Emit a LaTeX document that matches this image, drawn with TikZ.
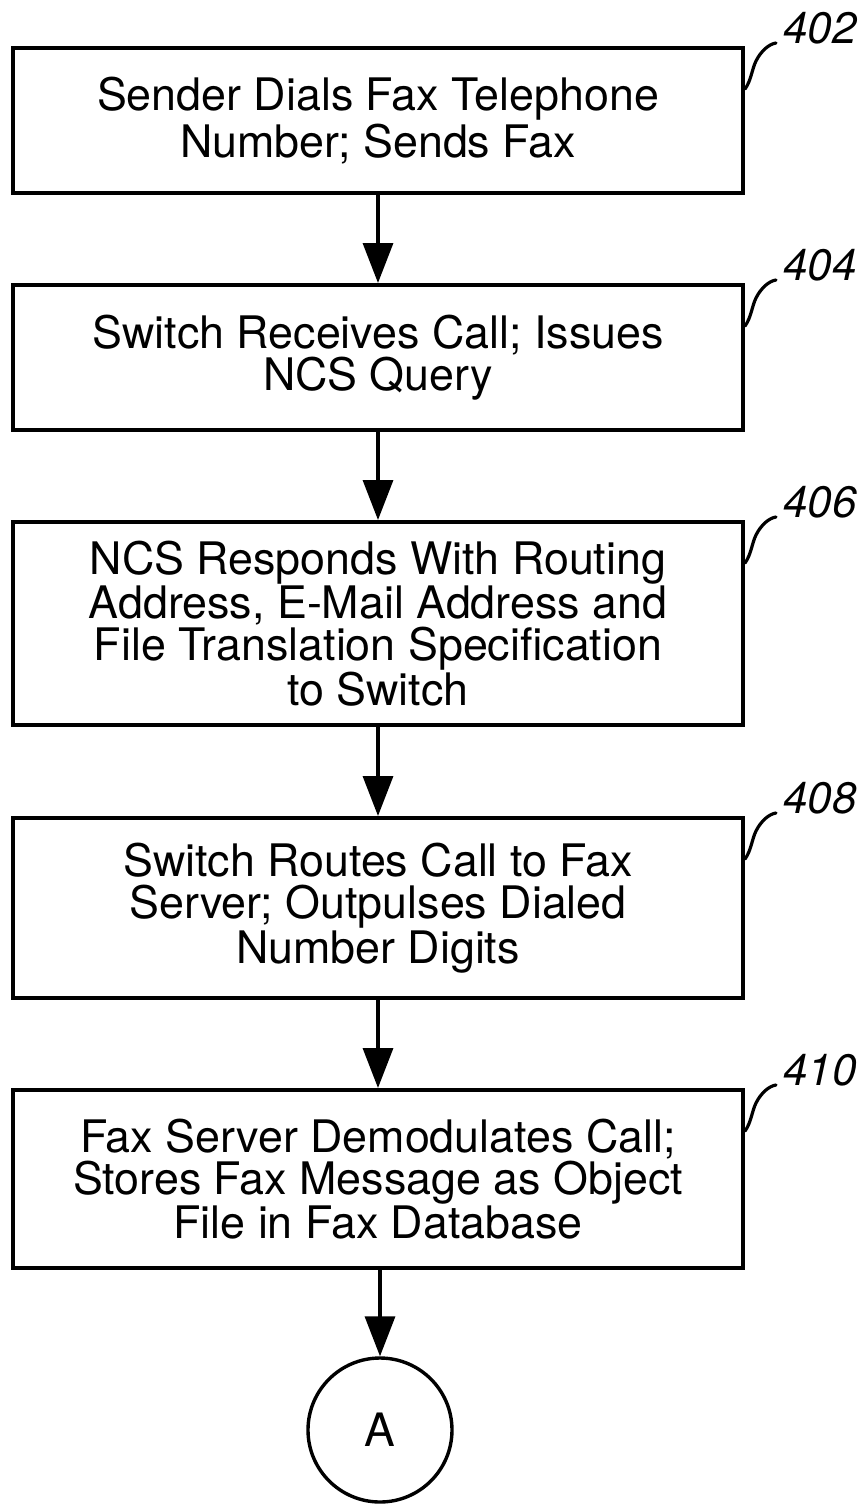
\documentclass[tikz,border=0pt]{standalone}
\usepackage{fontspec}
\setmainfont{TeX Gyre Heros}
\usetikzlibrary{arrows.meta,calc}
\begin{document}
\begin{tikzpicture}[x=0.5pt,y=-0.5pt,
  stepbox/.style={draw,line width=2pt,minimum width=365pt,align=center,inner sep=0pt,
    font=\fontsize{22.4pt}{21pt}\selectfont},
  flow/.style={line width=1.7pt,-{Triangle[length=20pt,width=15pt]}},
  connector/.style={draw,circle,line width=1.7pt,minimum size=72pt,inner sep=0pt,
    font=\fontsize{23pt}{23pt}\selectfont},
  reflabel/.style={font=\fontsize{22pt}{22pt}\selectfont\itshape,anchor=base west,inner sep=0pt},
  lead/.style={line width=1.6pt,line cap=round}]
\useasboundingbox (0,0) rectangle (862,1505);

\node[stepbox,minimum height=72.5pt] (b402) at (378,120.5)
  {\raisebox{-3pt}{\shortstack{Sender Dials Fax Telephone\\[-1pt]Number; Sends Fax}}};
\node[stepbox,minimum height=72.5pt] (b404) at (378,357.5)
  {Switch Receives Call; Issues\\NCS Query};
\node[stepbox,minimum height=101.5pt] (b406) at (378,623.5)
  {NCS Responds With Routing\\Address, E-Mail Address and\\File Translation Specification\\to Switch};
\node[stepbox,minimum height=90pt] (b408) at (378,908)
  {Switch Routes Call to Fax\\Server; Outpulses Dialed\\Number Digits};
\node[stepbox,minimum height=89pt] (b410) at (378,1179)
  {Fax Server Demodulates Call;\\Stores Fax Message as Object\\File in Fax Database};
\node[connector] (A) at (380,1430) {A};

\draw[flow] (b402) -- (b404);
\draw[flow] (b404) -- (b406);
\draw[flow] (b406) -- (b408);
\draw[flow] (b408) -- (b410);
\draw[flow] (b410.south -| A) -- (A);

\foreach \b in {402,404,406,408,410}{
  \node[reflabel] (l\b) at ($(b\b.north east)+(38,-3)$) {\b};
  \draw[lead] ($(b\b.north east)+(0,43)$)
    .. controls ($(b\b.north east)+(6,35)$) and ($(b\b.north east)+(7,23)$) ..
    ($(b\b.north east)+(11,15)$)
    .. controls ($(b\b.north east)+(16,5)$) and ($(b\b.north east)+(24,-2)$) ..
    ($(l\b.base west)+(-7,0)$);
}
\end{tikzpicture}
\end{document}
